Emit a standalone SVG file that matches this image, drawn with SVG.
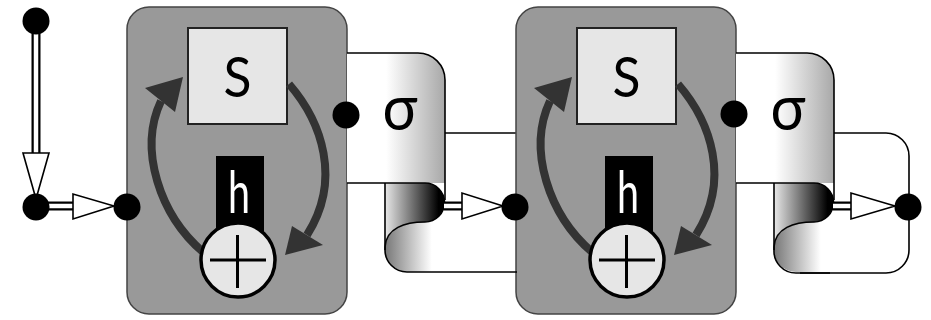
<svg xmlns="http://www.w3.org/2000/svg" width="931" height="320" viewBox="0 0 931 320">
<style>
.blk{fill:#999;stroke:#444;stroke-width:1.5}
.sbox{fill:#e6e6e6;stroke:#222;stroke-width:2}
.lbl{font-family:Lato,"Liberation Sans","DejaVu Sans",sans-serif;text-anchor:middle}
.thin{font-family:Lato,"Liberation Sans",sans-serif;font-weight:400;text-anchor:middle}
.arc{fill:none;stroke:#333;stroke-width:8}
.head{fill:#333}
.sum{fill:#e6e6e6;stroke:#000;stroke-width:3.5}
.plus{stroke:#000;stroke-width:3;fill:none}
.edge{fill:none;stroke:#000;stroke-width:1.6}
.shaftO{fill:none;stroke:#000;stroke-width:9}
.shaftI{fill:none;stroke:#fff;stroke-width:4.5}
.tri{fill:#fff;stroke:#000;stroke-width:1.6;stroke-linejoin:miter}
.dot{fill:#000}
</style>
<defs>
<linearGradient id="gFront" gradientUnits="objectBoundingBox" x1="0" y1="0" x2="1" y2="0">
<stop offset="0" stop-color="#fff"/><stop offset="0.4" stop-color="#fff"/><stop offset="1" stop-color="#a8a8a8"/>
</linearGradient>
<linearGradient id="gDark" gradientUnits="objectBoundingBox" x1="0" y1="0" x2="1" y2="0">
<stop offset="0" stop-color="#e8e8e8"/><stop offset="0.9" stop-color="#000"/><stop offset="1" stop-color="#000"/>
</linearGradient>
<linearGradient id="gLow" gradientUnits="objectBoundingBox" x1="0" y1="0" x2="1" y2="0">
<stop offset="0" stop-color="#777"/><stop offset="0.55" stop-color="#fff"/><stop offset="1" stop-color="#fff"/>
</linearGradient>
</defs>

<g id="connectors">
<path class="edge" d="M445,133 H517"/>
<path class="edge" d="M834,133 H886 A23,23 0 0 1 909,156 V250 A23,23 0 0 1 886,273 H800"/>
</g>

<g id="block1">
<rect class="blk" x="127" y="7" width="220" height="307" rx="22"/>
<rect class="sbox" x="188" y="28" width="99" height="96"/>
<text class="thin" x="237.5" y="97" font-size="56" textLength="28" lengthAdjust="spacingAndGlyphs">S</text>
<rect x="216" y="156" width="48" height="80" fill="#000"/>
<text class="thin" x="239" y="213" font-size="59" fill="#fff" textLength="22" lengthAdjust="spacingAndGlyphs">h</text>
<path class="arc" d="M203,252 C160,215 138,150 161,101"/>
<path class="head" d="M183,77 L145,88 L175,112 Z"/>
<path class="arc" d="M289,84 C322,122 342,180 307,235"/>
<path class="head" d="M285,255 L292,226 L323,245 Z"/>
<circle class="sum" cx="238" cy="260" r="37"/>
<path class="plus" d="M210,260 H266 M237.5,235 V288"/>
</g>

<g id="block2" transform="translate(389,0)">
<rect class="blk" x="127" y="7" width="220" height="307" rx="22"/>
<rect class="sbox" x="188" y="28" width="99" height="96"/>
<text class="thin" x="237.5" y="97" font-size="56" textLength="28" lengthAdjust="spacingAndGlyphs">S</text>
<rect x="216" y="156" width="48" height="80" fill="#000"/>
<text class="thin" x="239" y="213" font-size="59" fill="#fff" textLength="22" lengthAdjust="spacingAndGlyphs">h</text>
<path class="arc" d="M203,252 C160,215 138,150 161,101"/>
<path class="head" d="M183,77 L145,88 L175,112 Z"/>
<path class="arc" d="M289,84 C322,122 342,180 307,235"/>
<path class="head" d="M285,255 L292,226 L323,245 Z"/>
<circle class="sum" cx="238" cy="260" r="37"/>
<path class="plus" d="M210,260 H266 M237.5,235 V288"/>
</g>

<g id="sigma1">
<path d="M347,53 H418 A27,27 0 0 1 445,80 V183 H347 Z" fill="url(#gFront)"/>
<path d="M425,222 C405,222 386,228 385,247 V250 A22,22 0 0 0 407,272 H470 V222 Z" fill="url(#gLow)"/>
<path d="M385,183 H425 A19.5,19.5 0 0 1 425,222 C405,222 386,228 385,247 Z" fill="url(#gDark)"/>
<path class="edge" d="M347,53 H418 A27,27 0 0 1 445,80 V200"/>
<path class="edge" d="M347,183 H425 A19.5,19.5 0 0 1 425,222 C405,222 386,228 385,247 V250 A22,22 0 0 0 407,272 H517"/>
<path class="edge" d="M385,183 V250"/>
<text class="lbl" x="400" y="130" font-size="64" textLength="35" lengthAdjust="spacingAndGlyphs">σ</text>
</g>

<g id="sigma2">
<path d="M736,53 H807 A27,27 0 0 1 834,80 V183 H736 Z" fill="url(#gFront)"/>
<path d="M814,222 C794,222 775,228 774,247 V250 A22,22 0 0 0 796,272 H859 V222 Z" fill="url(#gLow)"/>
<path d="M774,183 H814 A19.5,19.5 0 0 1 814,222 C794,222 775,228 774,247 Z" fill="url(#gDark)"/>
<path class="edge" d="M736,53 H807 A27,27 0 0 1 834,80 V200"/>
<path class="edge" d="M736,183 H814 A19.5,19.5 0 0 1 814,222 C794,222 775,228 774,247 V250 A22,22 0 0 0 796,273 H830"/>
<path class="edge" d="M774,183 V250"/>
<text class="lbl" x="788" y="130" font-size="64" textLength="35" lengthAdjust="spacingAndGlyphs">σ</text>
</g>

<g id="arrows">
<path class="shaftO" d="M36,30 V154"/><path class="shaftI" d="M36,30 V154"/>
<path class="tri" d="M23,153 H49 L36,199 Z"/>
<path class="shaftO" d="M45,206 H74"/><path class="shaftI" d="M45,206 H74"/>
<path class="tri" d="M73,194 V219 L114,206 Z"/>
<path class="shaftO" d="M444,206 H463"/><path class="shaftI" d="M444,206 H463"/>
<path class="tri" d="M462,193 V219 L503,206 Z"/>
<path class="shaftO" d="M833,206 H852"/><path class="shaftI" d="M833,206 H852"/>
<path class="tri" d="M851,193 V219 L895,206 Z"/>
</g>

<g id="dots">
<circle class="dot" cx="36" cy="21" r="13.5"/>
<circle class="dot" cx="36" cy="207" r="13.5"/>
<circle class="dot" cx="127" cy="207" r="13.5"/>
<circle class="dot" cx="346" cy="115" r="13.5"/>
<circle class="dot" cx="515" cy="207" r="13.5"/>
<circle class="dot" cx="734" cy="114" r="13.5"/>
<circle class="dot" cx="908" cy="207" r="13.5"/>
</g>
</svg>
